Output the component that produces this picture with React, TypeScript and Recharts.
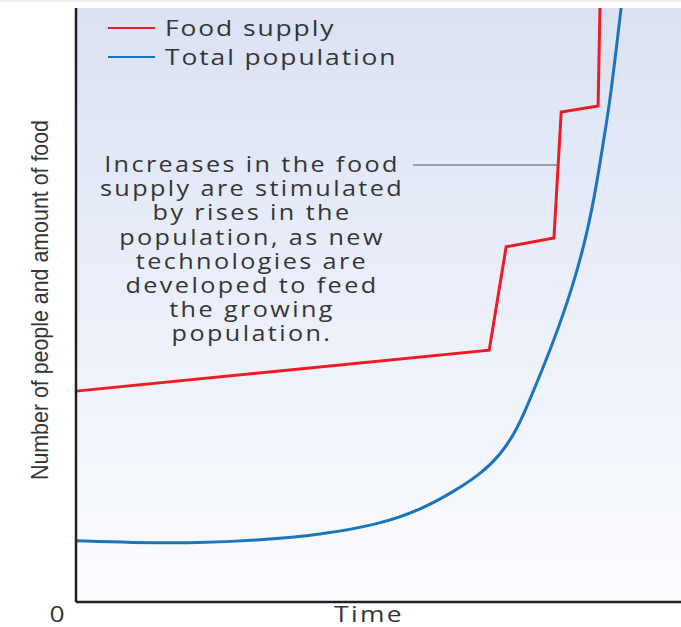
import React from "react";
import { LineChart, Line, XAxis, YAxis, ReferenceArea } from "recharts";

// values in % of axis range (x: time, y: quantity)
const FOOD_SUPPLY = [
  { x: 0, y: 35.5 },
  { x: 68.3, y: 42.4 },
  { x: 71.1, y: 59.8 },
  { x: 79.0, y: 61.3 },
  { x: 80.2, y: 82.5 },
  { x: 86.3, y: 83.5 },
  { x: 86.6, y: 100 },
];

const TOTAL_POPULATION = [
  { x: 0, y: 10.3 },
  { x: 8.9, y: 10.0 },
  { x: 20.5, y: 9.9 },
  { x: 30.4, y: 10.4 },
  { x: 40.3, y: 11.3 },
  { x: 50.2, y: 13.1 },
  { x: 56.9, y: 15.5 },
  { x: 62.3, y: 18.5 },
  { x: 66.8, y: 21.5 },
  { x: 70.1, y: 24.7 },
  { x: 72.9, y: 29.0 },
  { x: 75.0, y: 34.0 },
  { x: 78.8, y: 43.4 },
  { x: 82.1, y: 53.0 },
  { x: 84.5, y: 62.1 },
  { x: 86.1, y: 70.5 },
  { x: 87.4, y: 79.0 },
  { x: 88.3, y: 84.5 },
  { x: 90.1, y: 100 },
];

const SERIES = [
  { name: "Food supply", color: "#ed1c24", data: FOOD_SUPPLY, curve: "linear" },
  { name: "Total population", color: "#1c75bc", data: TOTAL_POPULATION, curve: "basis" },
];

const ANNOTATION = [
  "Increases in the food",
  "supply are stimulated",
  "by rises in the",
  "population, as new",
  "technologies are",
  "developed to feed",
  "the growing",
  "population.",
];

const Y_LABEL = "Number of people and amount of food";
const X_LABEL = "Time";
const ORIGIN_LABEL = "0";

const FONT = "'Open Sans', 'DejaVu Sans', sans-serif";
const TEXT = "#353535";
const SX = 1.2; // the original lettering is stretched horizontally

export default function App() {
  return (
    <div style={{ position: "absolute", left: 0, top: 0, width: 681, height: 627, background: "#fff" }}>
      <div style={{ position: "absolute", left: 0, top: 0, width: 681, height: 2, background: "#eeeeee" }} />
      <LineChart
        width={681}
        height={627}
        margin={{ top: 8, right: 0, bottom: 0, left: 0 }}
      >
        <defs>
          <linearGradient id="bgGrad" x1="0" y1="0" x2="0" y2="1">
            <stop offset="0%" stopColor="#dae2f4" />
            <stop offset="100%" stopColor="#fbfcfe" />
          </linearGradient>
        </defs>
        <XAxis
          type="number"
          dataKey="x"
          domain={[0, 100]}
          height={25}
          tick={false}
          tickLine={false}
          axisLine={{ stroke: "#231f20", strokeWidth: 2.5 }}
        />
        <YAxis
          type="number"
          dataKey="y"
          domain={[0, 100]}
          width={76}
          tick={false}
          tickLine={false}
          axisLine={{ stroke: "#231f20", strokeWidth: 2.5 }}
          allowDataOverflow
        />
        <ReferenceArea
          x1={0}
          x2={100}
          y1={0}
          y2={100}
          fill="url(#bgGrad)"
          fillOpacity={1}
          stroke="none"
        />
        {SERIES.map((s) => (
          <Line
            key={s.name}
            name={s.name}
            data={s.data}
            dataKey="y"
            type={s.curve as "linear" | "basis"}
            stroke={s.color}
            strokeWidth={3}
            dot={false}
            activeDot={false}
            isAnimationActive={false}
          />
        ))}
      </LineChart>
      <svg
        width={681}
        height={627}
        style={{ position: "absolute", left: 0, top: 0, pointerEvents: "none" }}
      >
        {/* legend */}
        {SERIES.map((s, i) => (
          <g key={s.name}>
            <line x1={108} x2={155} y1={28 + i * 29} y2={28 + i * 29} stroke={s.color} strokeWidth={2} />
            <text
              transform={`translate(165, ${36 + i * 29}) scale(${SX}, 1)`}
              fontFamily={FONT}
              fontSize={22}
              letterSpacing={1.6}
              fill={TEXT}
            >
              {s.name}
            </text>
          </g>
        ))}
        {/* leader line from annotation to the food step */}
        <line x1={413} x2={557} y1={165} y2={165} stroke="#555" strokeWidth={1} />
        {ANNOTATION.map((line, i) => (
          <text
            key={i}
            transform={`translate(252, ${172 + i * 24.2}) scale(${SX}, 1)`}
            textAnchor="middle"
            fontFamily={FONT}
            fontSize={21}
            letterSpacing={2}
            fill={TEXT}
          >
            {line}
          </text>
        ))}
        <text
          transform="translate(48, 300) rotate(-90)"
          textAnchor="middle"
          fontFamily="'Liberation Sans Narrow', 'Liberation Sans', sans-serif"
          fontSize={24}
          textLength={360}
          lengthAdjust="spacingAndGlyphs"
          fill={TEXT}
        >
          {Y_LABEL}
        </text>
        <text
          transform={`translate(57, 622) scale(${SX}, 1)`}
          textAnchor="middle"
          fontFamily={FONT}
          fontSize={22}
          fill={TEXT}
        >
          {ORIGIN_LABEL}
        </text>
        <text
          transform={`translate(369, 622) scale(${SX}, 1)`}
          textAnchor="middle"
          fontFamily={FONT}
          fontSize={22}
          letterSpacing={2}
          fill={TEXT}
        >
          {X_LABEL}
        </text>
      </svg>
    </div>
  );
}
